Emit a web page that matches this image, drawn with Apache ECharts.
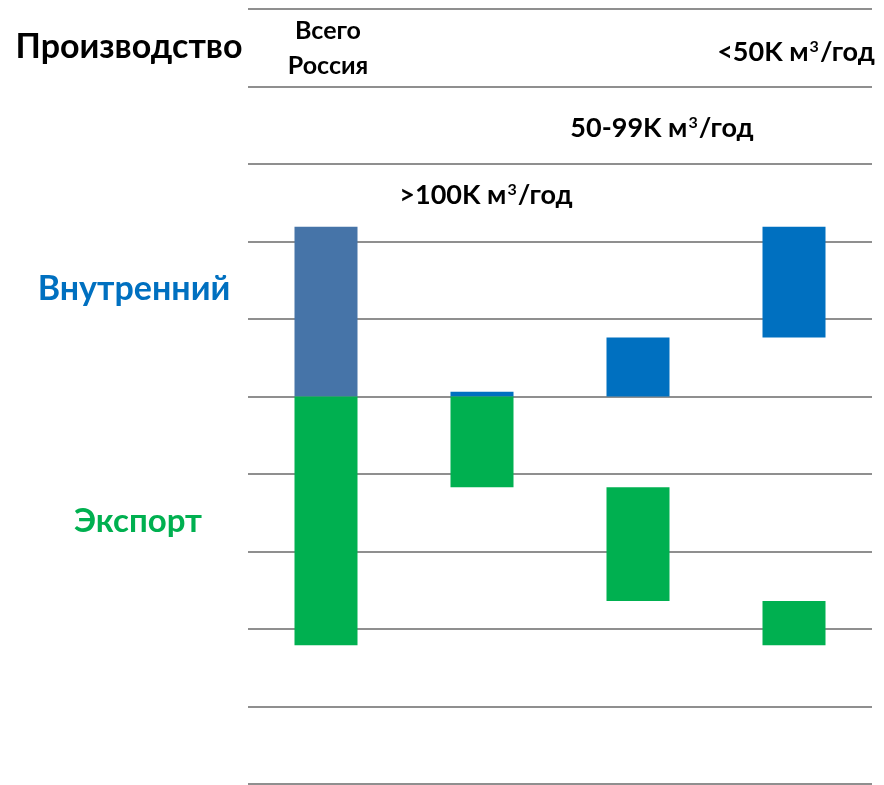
<!DOCTYPE html>
<html>
<head>
<meta charset="utf-8">
<script src="https://cdn.jsdelivr.net/npm/echarts@6/dist/echarts.min.js"></script>
<style>
  html, body { margin: 0; padding: 0; background: #fff; }
  #chart { width: 884px; height: 785px; }
</style>
</head>
<body>
<div id="chart"></div>
<script>
// categories (top labels) and waterfall values, grid step = 100
var categories = ["Всего\nРоссия", ">100K м³/год", "50-99K м³/год", "<50K м³/год"];
var domesticBase = [0, 0, 0, 76];
var domestic = [219, 6, 76, 143];
var exportBase = [0, 0, -117, -264];
var exportVals = [-321, -117, -147, -57];
var rowTitles = ["Производство", "Внутренний", "Экспорт"];

var FONT = 'Lato, "Open Sans", sans-serif';
var totalBlue = "#4674A8";
var blue = "#0070C0";
var green = "#00B050";

var myChart = echarts.init(document.getElementById("chart"));

function colored(arr, first, rest) {
  return arr.map(function (v, i) {
    return { value: v, itemStyle: { color: i === 0 ? first : rest } };
  });
}

var option = {
  animation: false,
  grid: { left: 248, right: 12, top: 9, bottom: 1 },
  xAxis: {
    type: "category",
    data: categories,
    axisLine: { show: false },
    axisTick: { show: false },
    axisLabel: { show: false }
  },
  yAxis: {
    type: "value",
    min: -500,
    max: 500,
    interval: 100,
    axisLabel: { show: false },
    axisLine: { show: false },
    axisTick: { show: false },
    splitLine: { lineStyle: { color: "#8f8f8f", width: 2 } }
  },
  series: [
    { type: "bar", stack: "w", silent: true, barWidth: 63,
      itemStyle: { color: "transparent" }, data: domesticBase },
    { type: "bar", stack: "w", silent: true, barWidth: 63,
      data: colored(domestic, totalBlue, blue) },
    { type: "bar", stack: "w", silent: true, barWidth: 63,
      itemStyle: { color: "transparent" }, data: exportBase },
    { type: "bar", stack: "w", silent: true, barWidth: 63,
      data: colored(exportVals, green, green) }
  ]
};

myChart.setOption(option);

// text layout: category headers staggered above the bars, row titles on the left
var catDx = [2, 4, 24, 2];
var catY = [48, 195, 128, 52];
var catSize = [25, 27, 27, 27];
var rowPos = [[129, 47], [134, 289], [138, 521]];
var rowSize = [34, 34, 33];
var rowColor = ["#000", blue, green];

// turn "м³" into a rich-text superscript
function richText(s) {
  return s.split("³").join("{sup|3}");
}

var elements = [];
categories.forEach(function (c, i) {
  var x = myChart.convertToPixel({ xAxisIndex: 0 }, i);
  elements.push({
    type: "text",
    x: x + catDx[i],
    y: catY[i],
    style: {
      text: richText(c),
      fill: "#000",
      font: "bold " + catSize[i] + "px " + FONT,
      align: "center",
      verticalAlign: "middle",
      lineHeight: 35,
      rich: {
        sup: {
          fill: "#000",
          font: "bold 16px " + FONT,
          padding: [0, 1, 10, 1]
        }
      }
    }
  });
});
rowTitles.forEach(function (t, i) {
  elements.push({
    type: "text",
    x: rowPos[i][0],
    y: rowPos[i][1],
    style: {
      text: t,
      fill: rowColor[i],
      font: "bold " + rowSize[i] + "px " + FONT,
      align: "center",
      verticalAlign: "middle"
    }
  });
});
myChart.setOption({ graphic: { elements: elements } });
</script>
</body>
</html>
